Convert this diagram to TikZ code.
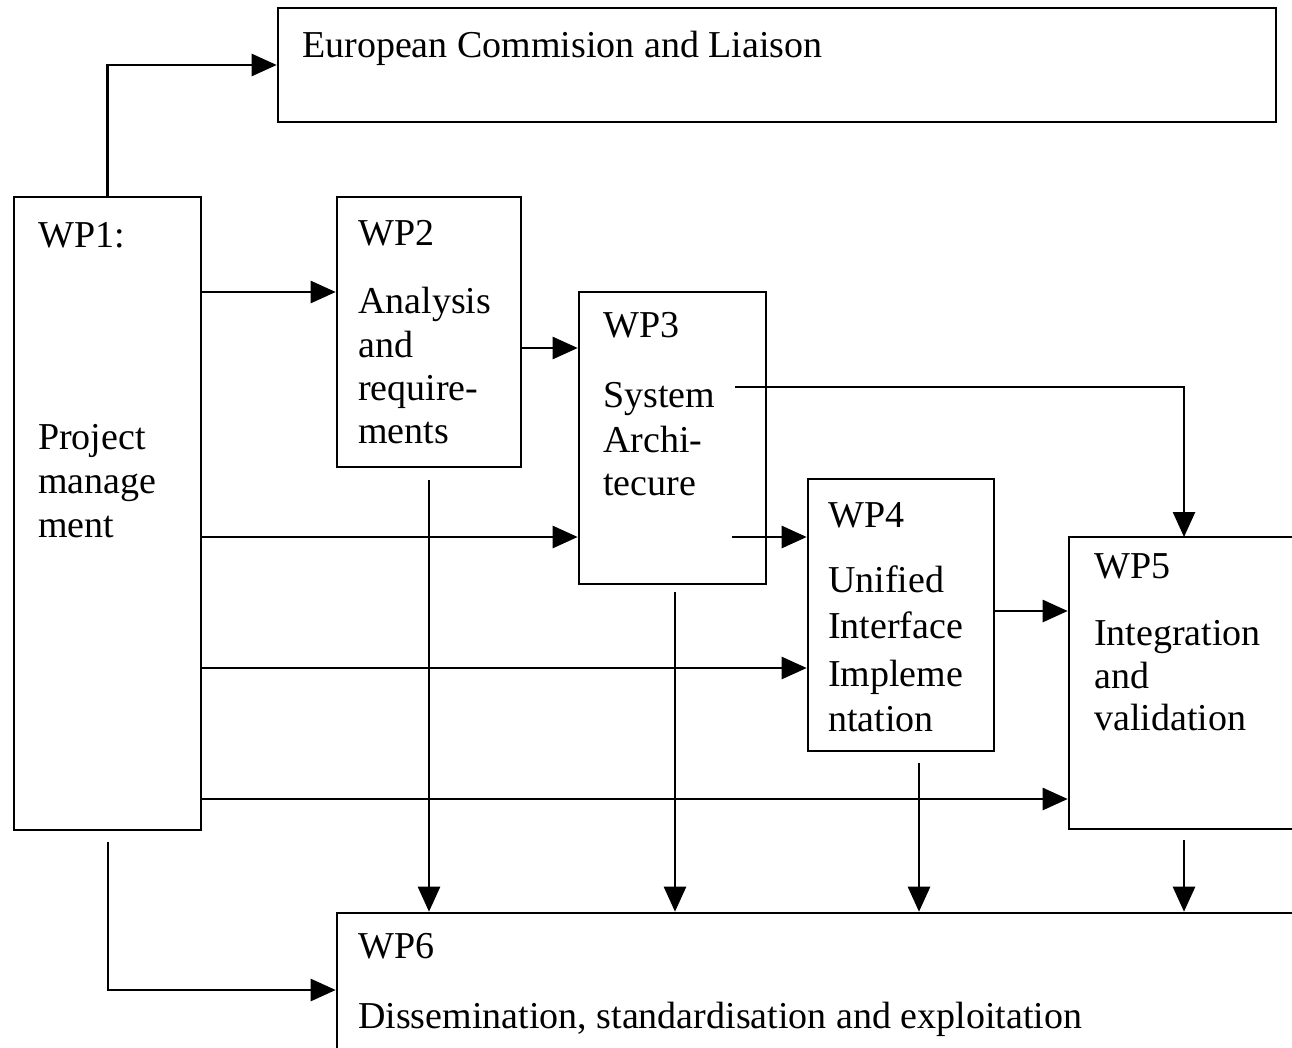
\documentclass[tikz,border=0pt]{standalone}
\usepackage{fontspec}
\setmainfont{Liberation Serif}
\usetikzlibrary{arrows.meta}
\tikzset{
  box/.style={draw=black, line width=2.6pt, rectangle, inner sep=0pt},
  lbl/.style={anchor=base west, inner sep=0pt, font=\fontsize{38}{44}\selectfont},
  arr/.style={draw=black, line width=2.6pt, -{Triangle[length=25pt,width=22pt]}},
}
\begin{document}
\begin{tikzpicture}[x=1pt,y=-1pt]
\useasboundingbox (0,0) rectangle (1292,1047);
\clip (0,0) rectangle (1292,1047);
% boxes
\node[box, minimum width=998pt, minimum height=114pt] (ec) at (777,65) {};
\node[box, minimum width=187pt, minimum height=633pt] (wp1) at (107.5,513.5) {};
\node[box, minimum width=184pt, minimum height=270pt] (wp2) at (429,332) {};
\node[box, minimum width=187pt, minimum height=292pt] (wp3) at (672.5,438) {};
\node[box, minimum width=186pt, minimum height=272pt] (wp4) at (901,615) {};
\node[box, minimum width=330pt, minimum height=292pt] (wp5) at (1234,683) {};
\node[box, minimum width=1063pt, minimum height=187pt] (wp6) at (868.5,1006.5) {};
% labels
\node[lbl] (ect) at (302,57) {European Commision and Liaison};
\node[lbl] (wp1a) at (38,247) {WP1:};
\node[lbl] (wp1b) at (38,449) {Project};
\node[lbl] (wp1c) at (38,493) {manage};
\node[lbl] (wp1d) at (38,537) {ment};
\node[lbl] (wp2a) at (358,245) {WP2};
\node[lbl] (wp2b) at (358,313) {Analysis};
\node[lbl] (wp2c) at (358,357) {and};
\node[lbl] (wp2d) at (358,400) {require-};
\node[lbl] (wp2e) at (358,443) {ments};
\node[lbl] (wp3a) at (603,337) {WP3};
\node[lbl] (wp3b) at (603,407) {System};
\node[lbl] (wp3c) at (603,452) {Archi-};
\node[lbl] (wp3d) at (603,495) {tecure};
\node[lbl] (wp4a) at (828,527) {WP4};
\node[lbl] (wp4b) at (828,592) {Unified};
\node[lbl] (wp4c) at (828,638) {Interface};
\node[lbl] (wp4d) at (828,686) {Impleme};
\node[lbl] (wp4e) at (828,731) {ntation};
\node[lbl] (wp5a) at (1094,578) {WP5};
\node[lbl] (wp5b) at (1094,645) {Integration};
\node[lbl] (wp5c) at (1094,688) {and};
\node[lbl] (wp5d) at (1094,730) {validation};
\node[lbl] (wp6a) at (358,958) {WP6};
\node[lbl] (wp6b) at (358,1028) {Dissemination, standardisation and exploitation};
% free-end coordinates
\coordinate (s3a) at (735,387);
\coordinate (s3b) at (732,537);
\coordinate (t5) at (1184,537);
\coordinate (d2) at (429,480);
\coordinate (d3) at (675,592);
\coordinate (d4) at (919,763);
\coordinate (d5) at (1184,840);
\coordinate (d1) at (108,842);
\coordinate (r1) at (0,292);
\coordinate (r2) at (0,348);
\coordinate (r3) at (0,537);
\coordinate (r4) at (0,668);
\coordinate (r5) at (0,799);
\coordinate (r6) at (0,611);
\coordinate (r7) at (0,990);
% connectors
\draw[arr] (wp1.north) |- (ec.west);
\draw[arr] (wp1.east |- r1) -- (wp2.west |- r1);
\draw[arr] (wp2.east |- r2) -- (wp3.west |- r2);
\draw[arr] (wp1.east |- r3) -- (wp3.west |- r3);
\draw[arr] (wp1.east |- r4) -- (wp4.west |- r4);
\draw[arr] (wp1.east |- r5) -- (wp5.west |- r5);
\draw[arr] (s3a) -| (t5);
\draw[arr] (s3b) -- (wp4.west |- s3b);
\draw[arr] (wp4.east |- r6) -- (wp5.west |- r6);
\draw[arr] (d2) -- (wp6.north -| d2);
\draw[arr] (d3) -- (wp6.north -| d3);
\draw[arr] (d4) -- (wp6.north -| d4);
\draw[arr] (d5) -- (wp6.north -| d5);
\draw[arr] (d1) |- (wp6.west |- r7);
\end{tikzpicture}
\end{document}
